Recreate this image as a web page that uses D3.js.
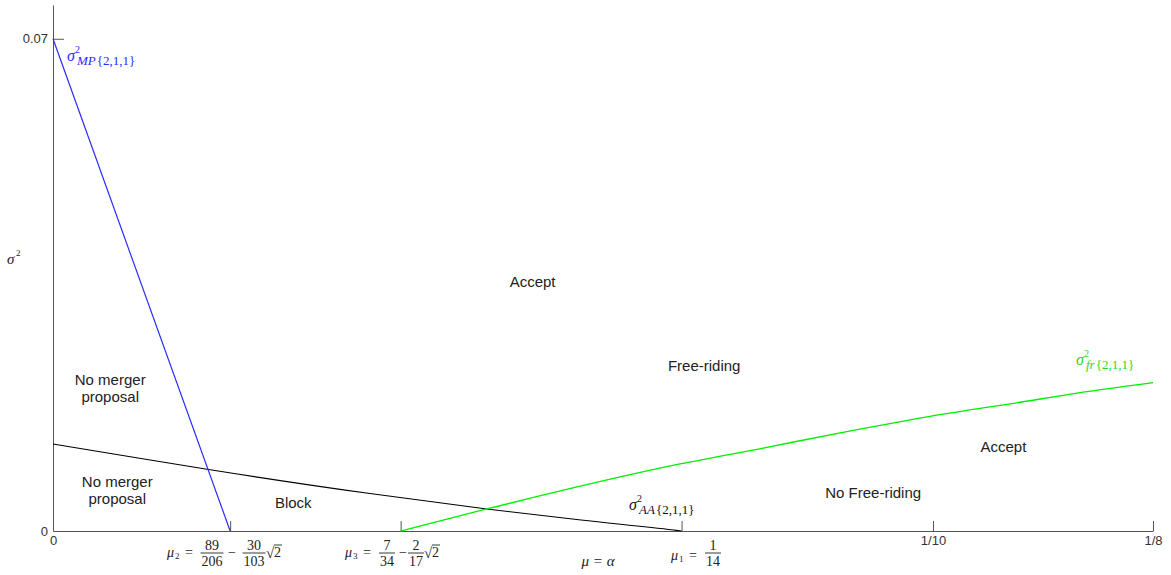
<!DOCTYPE html>
<html>
<head>
<meta charset="utf-8">
<script src="https://cdn.jsdelivr.net/npm/d3@7"></script>
<style>
  html, body { margin: 0; padding: 0; background: #fff; }
  svg { display: block; }
</style>
</head>
<body>
<div id="chart"></div>
<script>
// ---------- data ----------
const mu1 = 1 / 14;
const mu2 = 89 / 206 - 30 / 103 * Math.SQRT2;
const mu3 = 7 / 34 - 2 / 17 * Math.SQRT2;

const xTickValues = [0, mu2, mu3, mu1, 0.1, 0.125];
const xTickLabels = ["0", "", "", "", "1/10", "1/8"];
const yTickValues = [0, 0.07];
const yTickLabels = ["0", "0.07"];

// sigma^2_MP{2,1,1} (blue)
const mpX = [0, mu2];
const mpY = [0.07, 0];
// sigma^2_AA{2,1,1} (black)
const aaX = [0, 0.01, 0.0175, 0.0358, 0.0493, 0.06, 0.0705, mu1];
const aaY = [0.01238, 0.0103, 0.00878, 0.00536, 0.00313, 0.00156, 0.00014, 0];
// sigma^2_fr{2,1,1} (green)
const frX = [mu3, 0.04928, 0.07125, 0.0807, 0.0902, 0.0995, 0.1099, 0.1175, 0.125];
const frY = [0, 0.00313, 0.00953, 0.0118, 0.01413, 0.01626, 0.01831, 0.01982, 0.0211];

const regionLabels = [
  { t: ["Accept"], x: 0.0545, y: 0.0347 },
  { t: ["Free-riding"], x: 0.0740, y: 0.0227 },
  { t: ["No merger", "proposal"], x: 0.0065, y: 0.0208 },
  { t: ["No merger", "proposal"], x: 0.0073, y: 0.0062 },
  { t: ["Block"], x: 0.0273, y: 0.0032 },
  { t: ["Accept"], x: 0.1080, y: 0.0112 },
  { t: ["No Free-riding"], x: 0.0932, y: 0.0047 }
];

// ---------- setup ----------
const W = 1171, H = 575;
const svg = d3.select("#chart").append("svg").attr("width", W).attr("height", H);

const x = d3.scaleLinear().domain([0, 0.125]).range([53, 1153]);
const y = d3.scaleLinear().domain([0, 0.0748]).range([531, 5]);

const axisColor = "#555";
const sans = "'Liberation Sans', Arial, sans-serif";
const serif = "'Liberation Serif', 'Times New Roman', serif";

// ---------- axes ----------
const xAxis = d3.axisBottom(x).tickValues(xTickValues)
  .tickFormat((d, i) => xTickLabels[i]).tickSizeInner(-10).tickSizeOuter(0).tickPadding(5);
const gx = svg.append("g").attr("transform", `translate(0,${y(0)})`).call(xAxis);
gx.select(".domain").attr("stroke", axisColor);
gx.selectAll(".tick line").attr("stroke", axisColor);
gx.selectAll(".tick text").attr("fill", "#333").style("font-family", sans).style("font-size", "13px");

const yAxis = d3.axisLeft(y).tickValues(yTickValues)
  .tickFormat((d, i) => yTickLabels[i]).tickSizeInner(-11).tickSizeOuter(0).tickPadding(5);
const gy = svg.append("g").attr("transform", `translate(${x(0)},0)`).call(yAxis);
gy.select(".domain").attr("stroke", axisColor);
gy.selectAll(".tick line").attr("stroke", axisColor);
gy.selectAll(".tick text").attr("fill", "#333").style("font-family", sans).style("font-size", "13px");
gy.selectAll(".tick").filter(d => d === 0).select("line").remove();

// ---------- curves ----------
const line = d3.line().x(d => x(d[0])).y(d => y(d[1]));
svg.append("path").datum(d3.zip(aaX, aaY))
  .attr("d", line.curve(d3.curveMonotoneX)).attr("fill", "none").attr("stroke", "#000").attr("stroke-width", 1.1);
svg.append("path").datum(d3.zip(frX, frY))
  .attr("d", line.curve(d3.curveMonotoneX)).attr("fill", "none").attr("stroke", "#00ee00").attr("stroke-width", 1.3);
svg.append("path").datum(d3.zip(mpX, mpY))
  .attr("d", line.curve(d3.curveLinear)).attr("fill", "none").attr("stroke", "#2a2aff").attr("stroke-width", 1.2);

// ---------- region labels ----------
regionLabels.forEach(r => {
  const t = svg.append("text")
    .attr("x", x(r.x)).attr("y", y(r.y))
    .attr("text-anchor", "middle")
    .style("font-family", sans).style("font-size", "15px").attr("fill", "#222");
  r.t.forEach((s, i) => {
    t.append("tspan").attr("x", x(r.x)).attr("dy", i === 0 ? 0 : 17).text(s);
  });
});

// ---------- math labels ----------
function sigmaLabel(px, py, sub, color) {
  const g = svg.append("g").attr("fill", color).style("font-family", serif);
  g.append("text").attr("x", px).attr("y", py).style("font-size", "16px").style("font-style", "italic").text("σ");
  g.append("text").attr("x", px + 8).attr("y", py - 8).style("font-size", "10px").text("2");
  const s = g.append("text").attr("x", px + 10).attr("y", py + 4).style("font-size", "13px");
  s.append("tspan").style("font-style", "italic").text(sub);
  s.append("tspan").attr("dx", 1).text("{2,1,1}");
}
sigmaLabel(67, 61, "MP", "#2a2aff");
sigmaLabel(629, 510, "AA", "#111");
sigmaLabel(1076, 365, "fr", "#22dd22");

// y-axis label sigma^2
svg.append("text").attr("x", 7).attr("y", 264).style("font-family", serif)
  .style("font-size", "15px").style("font-style", "italic").attr("fill", "#222").text("σ");
svg.append("text").attr("x", 16).attr("y", 256).style("font-family", serif)
  .style("font-size", "9px").attr("fill", "#222").text("2");

// fraction helper
function frac(cx, barY, num, den) {
  const g = svg.append("g").style("font-family", serif).style("font-size", "14px").attr("fill", "#222");
  g.append("text").attr("x", cx).attr("y", barY - 3).attr("text-anchor", "middle").text(num);
  g.append("text").attr("x", cx).attr("y", barY + 13).attr("text-anchor", "middle").text(den);
  const w = Math.max(num.length, den.length) * 7 + 2;
  g.append("line").attr("x1", cx - w / 2).attr("x2", cx + w / 2).attr("y1", barY).attr("y2", barY)
    .attr("stroke", "#222").attr("stroke-width", 0.9);
}
function plain(px, py, s, italic, size, anchor) {
  return svg.append("text").attr("x", px).attr("y", py).style("font-family", serif)
    .style("font-size", (size || 14) + "px").style("font-style", italic ? "italic" : "normal")
    .attr("text-anchor", anchor || "start").attr("fill", "#222").text(s);
}
function muLabel(px, py, sub) {
  plain(px, py, "μ", true, 14);
  plain(px + 8, py + 2, sub, false, 9);
  plain(px + 18, py, "=", false, 14);
}
function sqrt2(px, py) {
  plain(px, py + 1, "√", false, 15);
  plain(px + 8, py, "2", false, 14);
  svg.append("line").attr("x1", px + 8).attr("x2", px + 16).attr("y1", py - 12).attr("y2", py - 12)
    .attr("stroke", "#222").attr("stroke-width", 0.9);
}

const barY = 553;
// mu2
muLabel(167, 557, "2");
frac(212, barY, "89", "206");
plain(232, 557, "−", false, 14, "middle");
frac(254, barY, "30", "103");
sqrt2(266, 557);
// mu3
muLabel(345, 557, "3");
frac(387, barY, "7", "34");
plain(403, 557, "−", false, 14, "middle");
frac(416, barY, "2", "17");
sqrt2(424, 557);
// mu1
muLabel(671, 560, "1");
frac(713, barY, "1", "14");
// axis title
plain(598, 566, "μ = α", true, 15, "middle");
</script>
</body>
</html>
